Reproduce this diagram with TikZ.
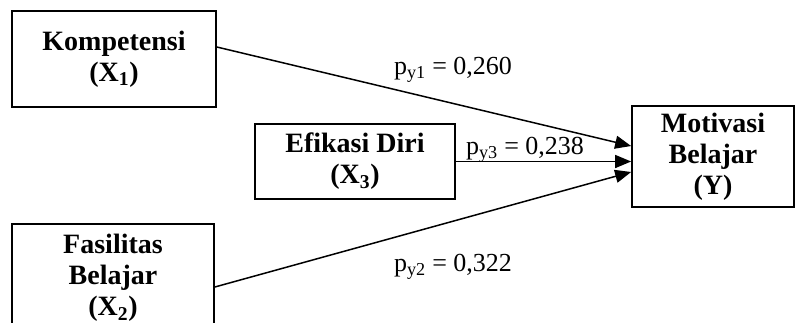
\documentclass[tikz,border=0pt]{standalone}
\usepackage{fontspec}
\setmainfont{Liberation Serif}
\usetikzlibrary{arrows.meta}
\begin{document}
\begin{tikzpicture}[x=1pt,y=-1pt,
  box/.style={draw, line width=1.7pt, align=center, inner sep=0pt,
    font=\bfseries\fontsize{28}{31}\selectfont},
  lbl/.style={inner sep=0pt, font=\fontsize{26}{30}\selectfont},
  arr/.style={line width=1.5pt, -{Triangle[length=16pt,width=13pt]}}]
\clip (0,0) rectangle (795,322);
\node[box, minimum width=204pt, minimum height=96pt] (k) at (114,59) {Kompetensi\\(X\textsubscript{1})};
\node[box, minimum width=200pt, minimum height=75pt] (e) at (355,161.5) {Efikasi Diri\\(X\textsubscript{3})};
\node[box, minimum width=202pt, minimum height=108pt] (f) at (113,278) {Fasilitas\\Belajar\\(X\textsubscript{2})};
\node[box, minimum width=162pt, minimum height=101pt] (m) at (713,156.5) {Motivasi\\Belajar\\(Y)};
\draw[arr] ([yshift=12pt]k.east) -- ([yshift=10.5pt]m.west);
\draw[arr] (e.east) -- (e.east -| m.west);
\draw[arr] ([yshift=-9pt]f.east) -- ([yshift=-15.5pt]m.west);
\node[lbl] (l1) at (453,70) {p\textsubscript{y1} = 0,260};
\node[lbl] (l3) at (525,150) {p\textsubscript{y3} = 0,238};
\node[lbl] (l2) at (453,267) {p\textsubscript{y2} = 0,322};
\end{tikzpicture}
\end{document}
